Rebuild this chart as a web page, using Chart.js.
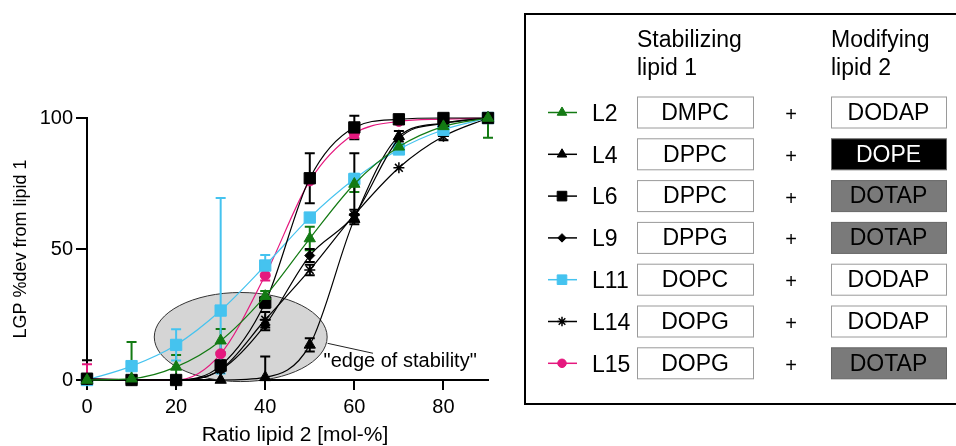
<!DOCTYPE html>
<html><head><meta charset="utf-8">
<script src="https://cdn.jsdelivr.net/npm/chart.js@4"></script>
<style>html,body{margin:0;padding:0;background:#fff;overflow:hidden}#wrap{width:956px;height:446px;position:relative}</style>
</head><body><div id="wrap"><canvas id="c" width="956" height="446"></canvas></div>
<script>
// ---------- data ----------
const ratios = [0, 10, 20, 30, 40, 50, 60, 70, 80, 90];
const xTicks = [0, 20, 40, 60, 80];
const yTicks = [0, 50, 100];
const xTitle = 'Ratio lipid 2 [mol-%]';
const yTitle = 'LGP %dev from lipid 1';
const seriesNames = ['L2', 'L4', 'L6', 'L9', 'L11', 'L14', 'L15'];
const lipid1 = ['DMPC', 'DPPC', 'DPPC', 'DPPG', 'DOPC', 'DOPG', 'DOPG'];
const lipid2 = ['DODAP', 'DOPE', 'DOTAP', 'DOTAP', 'DODAP', 'DODAP', 'DOTAP'];

const L2      = [0, 0.5, 5, 15, 32, 54, 74.8, 89, 96.8, 100];
const L2errHi = [0, 14, 4.5, 4.5, 2, 4.5, 3, 1, 1, 0];
const L2errLo = [0, 0.5, 4.5, 4.5, 2, 4.5, 3, 1, 1, 7.5];

const L4      = [0, 0, 0, 0, 1, 13.4, 61.4, 93, 98, 100];
const L4errHi = [0, 0, 0, 0, 8, 2.5, 2, 2, 0, 0];
const L4errLo = [0, 0, 0, 0, 1, 2.5, 2, 2, 0, 0];

const L6      = [0.5, 0, 0, 5.5, 29.6, 77, 96.4, 99.5, 100, 100];
const L6errHi = [7, 0, 0, 2, 2, 9.5, 4.5, 0, 0, 0];
const L6errLo = [0.5, 0, 0, 2, 2, 9.5, 4.5, 0, 0, 0];

const L9      = [0, 0, 0, 3.8, 21, 47.5, 63, 92, 98, 100];
const L9errHi = [0, 0, 0, 0, 2, 2.5, 23.5, 0, 0, 0];
const L9errLo = [0, 0, 0, 0, 2, 2.5, 1, 0, 0, 0];

const L11      = [0, 5.3, 13.4, 26.5, 43.7, 62, 76.7, 88, 95.5, 100];
const L11errHi = [0, 0, 6, 43, 4, 0, 2, 1, 0, 0];
const L11errLo = [0, 0, 6, 24, 4, 0, 2, 1, 0, 0];

const L14      = [0, 0, 0, 4, 23, 42, 63, 81, 93, 100];
const L14errHi = [0, 0, 0, 0, 3, 2, 2, 0, 1.5, 0];
const L14errLo = [0, 0, 0, 0, 3, 2, 2, 0, 1.5, 0];

const L15      = [0.5, 0, 0, 10, 40, 76, 94, 98.7, 99.6, 100];
const L15errHi = [5.5, 0, 0, 0, 2, 0, 1.5, 0, 0, 0];
const L15errLo = [0.5, 0, 0, 0, 2, 0, 1.5, 0, 0, 0];

const values = [L2, L4, L6, L9, L11, L14, L15];
const errHi = [L2errHi, L4errHi, L6errHi, L9errHi, L11errHi, L14errHi, L15errHi];
const errLo = [L2errLo, L4errLo, L6errLo, L9errLo, L11errLo, L14errLo, L15errLo];

// ---------- styles ----------
const GREEN = '#137a13', CYAN = '#45c3ef', PINK = '#e5187e', BLACK = '#000000';
const colors = [GREEN, BLACK, BLACK, BLACK, CYAN, BLACK, PINK];
const styles = ['triangle', 'triangle', 'rect', 'rectRot', 'rect', 'star', 'circle'];
const radii = [6.5, 6.5, 8, 5, 8, 5.5, 5];
const FONT = '"Liberation Sans", Arial, Helvetica, sans-serif';

// ---------- plugins ----------
const ellipsePlugin = {
  id: 'edgeEllipse',
  beforeDatasetsDraw(chart) {
    const {ctx, scales: {x, y}} = chart;
    const cx = x.getPixelForValue(34.5), cy = y.getPixelForValue(16.4);
    const rx = x.getPixelForValue(34.5 + 19.4) - cx;
    const ry = cy - y.getPixelForValue(16.4 + 17);
    ctx.save();
    ctx.beginPath();
    ctx.ellipse(cx, cy, rx, ry, 0, 0, Math.PI * 2);
    ctx.fillStyle = '#d5d5d5';
    ctx.fill();
    ctx.lineWidth = 1;
    ctx.strokeStyle = '#333';
    ctx.stroke();
    // error bars
    chart.data.datasets.forEach((ds, di) => {
      const hi = errHi[di], lo = errLo[di];
      ctx.strokeStyle = colors[di];
      ctx.lineWidth = 2;
      ratios.forEach((r, i) => {
        if (!hi[i] && !lo[i]) return;
        const px = x.getPixelForValue(r);
        const v = values[di][i];
        const top = y.getPixelForValue(v + hi[i]);
        const bot = y.getPixelForValue(v - lo[i]);
        ctx.beginPath();
        ctx.moveTo(px, top); ctx.lineTo(px, bot);
        if (hi[i]) { ctx.moveTo(px - 5, top); ctx.lineTo(px + 5, top); }
        if (lo[i] > 1) { ctx.moveTo(px - 5, bot); ctx.lineTo(px + 5, bot); }
        ctx.stroke();
      });
    });
    ctx.restore();
  },
  afterDatasetsDraw(chart) {
    const {ctx, scales: {x, y}} = chart;
    ctx.save();
    ctx.strokeStyle = '#222';
    ctx.lineWidth = 1;
    ctx.beginPath();
    ctx.moveTo(x.getPixelForValue(54), y.getPixelForValue(14));
    ctx.lineTo(x.getPixelForValue(64.2), y.getPixelForValue(10.2));
    ctx.stroke();
    ctx.fillStyle = '#000';
    ctx.font = '20px ' + FONT;
    ctx.textBaseline = 'middle';
    ctx.textAlign = 'left';
    ctx.fillText('"edge of stability"', x.getPixelForValue(53.1), y.getPixelForValue(6.9));
    // x axis title
    ctx.font = '21px ' + FONT;
    ctx.textAlign = 'center';
    ctx.fillText(xTitle, 295, 435);
    ctx.restore();
  }
};

function drawMarker(ctx, style, r, px, py, color) {
  ctx.fillStyle = color; ctx.strokeStyle = color;
  if (Chart.helpers && Chart.helpers.drawPoint) {
    ctx.lineWidth = style === 'star' ? 1.5 : 1;
    Chart.helpers.drawPoint(ctx, {pointStyle: style, radius: r, rotation: 0, borderWidth: ctx.lineWidth}, px, py);
  } else {
    ctx.beginPath(); ctx.arc(px, py, r, 0, Math.PI * 2); ctx.fill();
  }
}

const tableLegend = {
  id: 'tableLegend',
  afterDraw(chart) {
    const ctx = chart.ctx;
    const LF = '23px ' + FONT;
    ctx.save();
    ctx.strokeStyle = '#000'; ctx.lineWidth = 2;
    ctx.strokeRect(525, 14, 440, 390);
    ctx.fillStyle = '#000';
    ctx.font = LF;
    ctx.textAlign = 'left'; ctx.textBaseline = 'alphabetic';
    ctx.fillText('Stabilizing', 637, 47);
    ctx.fillText('lipid 1', 637, 75);
    ctx.fillText('Modifying', 831, 47);
    ctx.fillText('lipid 2', 831, 75);
    seriesNames.forEach((name, i) => {
      const cy = 112.5 + i * 41.8;
      // marker line
      ctx.strokeStyle = colors[i]; ctx.lineWidth = 1.5;
      ctx.beginPath(); ctx.moveTo(548, cy); ctx.lineTo(577, cy); ctx.stroke();
      drawMarker(ctx, styles[i], radii[i] * 0.85, 562, cy, colors[i]);
      ctx.fillStyle = '#000'; ctx.textBaseline = 'middle'; ctx.textAlign = 'left';
      ctx.font = LF;
      ctx.fillText(name, 592, cy + 2);
      // lipid 1 box
      ctx.fillStyle = '#fff'; ctx.fillRect(637, cy - 15.5, 116, 31);
      ctx.strokeStyle = '#9a9a9a'; ctx.lineWidth = 1;
      ctx.strokeRect(637.5, cy - 15.5, 116, 31);
      ctx.fillStyle = '#000'; ctx.textAlign = 'center';
      ctx.fillText(lipid1[i], 695, cy + 1);
      ctx.font = '20px ' + FONT;
      ctx.fillText('+', 791, cy + 3);
      ctx.font = LF;
      // lipid 2 box
      const l2 = lipid2[i];
      const fill = l2 === 'DOPE' ? '#000' : (l2 === 'DOTAP' ? '#7a7a7a' : '#fff');
      ctx.fillStyle = fill; ctx.fillRect(831, cy - 15.5, 115, 31);
      ctx.strokeStyle = l2 === 'DODAP' ? '#9a9a9a' : '#666';
      ctx.strokeRect(831.5, cy - 15.5, 115, 31);
      ctx.fillStyle = l2 === 'DOPE' ? '#fff' : '#000';
      ctx.fillText(l2, 888.5, cy + 1);
    });
    ctx.restore();
  }
};

// ---------- chart ----------
const datasets = seriesNames.map((name, i) => ({
  label: name,
  data: ratios.map((r, j) => ({x: r, y: values[i][j]})),
  borderColor: colors[i],
  backgroundColor: colors[i],
  borderWidth: 1.2,
  pointStyle: styles[i],
  pointRadius: radii[i],
  pointHoverRadius: radii[i],
  pointBorderWidth: styles[i] === 'star' ? 1.5 : 1,
  pointBorderColor: colors[i],
  pointBackgroundColor: colors[i],
  cubicInterpolationMode: 'monotone',
  fill: false,
  clip: false
}));

new Chart(document.getElementById('c'), {
  type: 'line',
  data: {datasets},
  options: {
    responsive: false,
    animation: false,
    devicePixelRatio: 1,
    layout: {padding: {left: 0, top: 118, right: 468, bottom: 0}},
    plugins: {legend: {display: false}, tooltip: {enabled: false}},
    scales: {
      x: {
        type: 'linear', min: 0, max: 90,
        afterFit(s) { s.height = 66; },
        afterBuildTicks(s) { s.ticks = xTicks.map(v => ({value: v})); },
        ticks: {color: '#000', font: {size: 20, family: FONT}, padding: 5, includeBounds: false},
        grid: {display: true, drawOnChartArea: false, drawTicks: true, tickLength: 10, color: '#000', lineWidth: 2},
        border: {display: true, color: '#000', width: 2},
        title: {display: false}
      },
      y: {
        type: 'linear', min: 0, max: 100,
        afterFit(s) { s.width = 87; },
        afterBuildTicks(s) { s.ticks = yTicks.map(v => ({value: v})); },
        ticks: {color: '#000', font: {size: 20, family: FONT}, padding: 3},
        grid: {display: true, drawOnChartArea: false, drawTicks: true, tickLength: 11, color: '#000', lineWidth: 2},
        border: {display: true, color: '#000', width: 2},
        title: {display: true, text: yTitle, color: '#000', font: {size: 18, family: FONT, lineHeight: 1}, padding: {top: 12, bottom: 0}}
      }
    }
  },
  plugins: [ellipsePlugin, tableLegend]
});
</script></body></html>
